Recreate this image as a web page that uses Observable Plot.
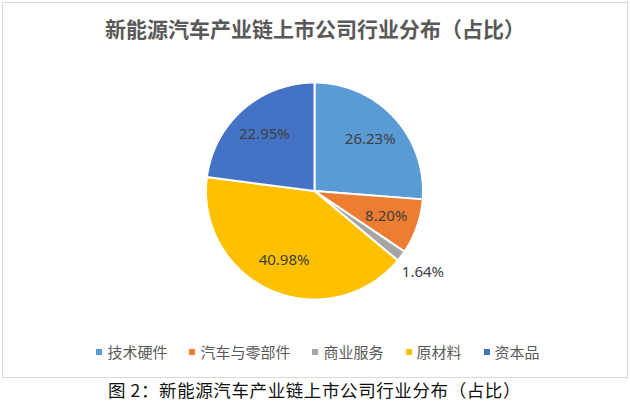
<!DOCTYPE html>
<html>
<head>
<meta charset="utf-8">
<script src="https://cdn.jsdelivr.net/npm/d3@7"></script>
<script src="https://cdn.jsdelivr.net/npm/@observablehq/plot@0.6"></script>
<style>
  html, body { margin: 0; padding: 0; background: #fff; }
  body { width: 630px; height: 404px; position: relative; overflow: hidden; font-family: "Noto Sans CJK SC", "Noto Sans", sans-serif; }
  #frame { position: absolute; left: 2px; top: 2px; width: 624px; height: 374px; border: 1px solid #d9d9d9; }
  #title { position: absolute; left: 0; top: 14px; width: 630px; text-align: center; font-size: 21px; line-height: 28px; font-weight: bold; color: #595959; }
  #chart { position: absolute; left: 0; top: 70px; }
  #legend { position: absolute; left: 0; top: 341px; width: 636px; display: flex; justify-content: center; font-size: 15px; line-height: 22px; color: #595959; }
  .item { display: flex; align-items: center; margin-right: 22px; }
  .item:last-child { margin-right: 0; }
  .sw { width: 6px; height: 6px; margin-right: 5px; }
  #caption { position: absolute; left: 108px; top: 379px; font-size: 17.5px; line-height: 22px; color: #111; letter-spacing: 0.6px; }
</style>
</head>
<body>
<div id="frame"></div>
<div id="title"></div>
<div id="chart"></div>
<div id="legend"></div>
<div id="caption"></div>
<script>
const titleText = "新能源汽车产业链上市公司行业分布（占比）";
const captionText = "图 2：新能源汽车产业链上市公司行业分布（占比）";
const categories = ["技术硬件", "汽车与零部件", "商业服务", "原材料", "资本品"];
const shares = [26.23, 8.20, 1.64, 40.98, 22.95];
const colors = ["#5B9BD5", "#ED7D31", "#A5A5A5", "#FFC000", "#4472C4"];

document.getElementById("title").textContent = titleText;
document.getElementById("caption").textContent = captionText;

const R = 108.5;
const arcs = d3.pie().sort(null).value(d => d)(shares);

const pts = [];
const lbls = [];
arcs.forEach((a, i) => {
  const cat = categories[i];
  pts.push({cat, x: 0, y: 0});
  const n = Math.max(2, Math.ceil((a.endAngle - a.startAngle) / (Math.PI / 360)));
  for (let k = 0; k <= n; k++) {
    const t = a.startAngle + (a.endAngle - a.startAngle) * k / n;
    pts.push({cat, x: R * Math.sin(t), y: R * Math.cos(t)});
  }
  pts.push({cat, x: 0, y: 0});
  const mid = (a.startAngle + a.endAngle) / 2;
  const small = shares[i] < 3;
  const rr = small ? R * 1.25 : R * 0.7;
  lbls.push({x: rr * Math.sin(mid), y: rr * Math.cos(mid), text: shares[i].toFixed(2) + "%"});
});

const plot = Plot.plot({
  width: 630,
  height: 240,
  margin: 0,
  x: {domain: [-314, 316], axis: null},
  y: {domain: [-119.5, 120.5], axis: null},
  color: {domain: categories, range: colors},
  style: {background: "transparent", fontFamily: "'Noto Sans', 'Noto Sans CJK SC', sans-serif"},
  marks: [
    Plot.line(pts, {x: "x", y: "y", z: "cat", fill: "cat", stroke: "white", strokeWidth: 2, strokeLinejoin: "round", curve: "linear"}),
    Plot.text(lbls, {x: "x", y: "y", text: "text", fill: "#404040", fontSize: 15})
  ]
});
document.getElementById("chart").appendChild(plot);

const legend = document.getElementById("legend");
categories.forEach((c, i) => {
  const it = document.createElement("div");
  it.className = "item";
  const sw = document.createElement("span");
  sw.className = "sw";
  sw.style.background = colors[i];
  const tx = document.createElement("span");
  tx.textContent = c;
  it.appendChild(sw);
  it.appendChild(tx);
  legend.appendChild(it);
});
</script>
</body>
</html>
